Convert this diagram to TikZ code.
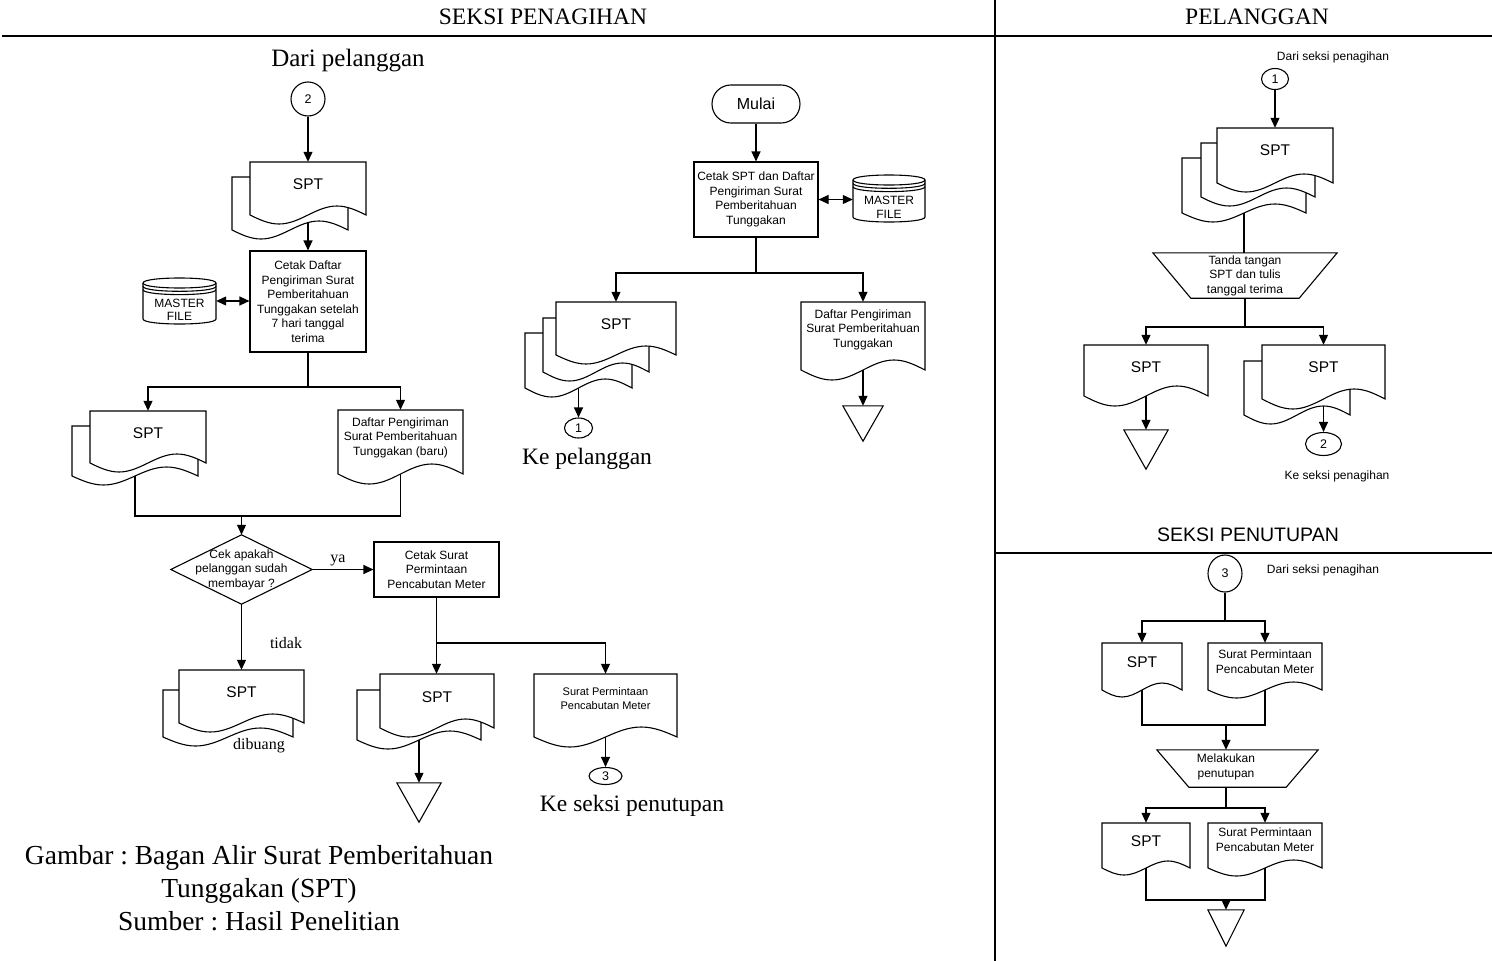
\documentclass[tikz,border=0pt]{standalone}
\usepackage{fontspec}
\setmainfont{Liberation Serif}
\setsansfont{Liberation Sans}
\usetikzlibrary{arrows.meta,shapes.geometric}
\pgfdeclarelayer{conns}
\pgfsetlayers{conns,main}
\frenchspacing

\tikzset{
  outline/.style={draw=black, line width=1.1pt},
  shapeline/.style={draw=black, line width=1.1pt, fill=white},
  conn/.style={draw=black, line width=1.1pt},
  arr/.style={conn, -{Triangle[length=10pt,width=9pt]}},
  darr/.style={conn, {Triangle[length=10pt,width=9pt]}-{Triangle[length=10pt,width=9pt]}},
  lbl/.style={font=\sffamily\fontsize{12}{14.5}\selectfont, align=center, inner sep=0pt},
  docnode/.style={lbl, text depth=8.5pt},
  procbox/.style={draw=black, line width=1.1pt, fill=white, lbl},
  conncirc/.style={ellipse, draw=black, line width=1.1pt, fill=white, inner sep=0pt,
    font=\sffamily\fontsize{12.5}{14}\selectfont},
  serif/.style={font=\fontsize{16}{19}\selectfont, inner sep=0pt},
  bigserif/.style={font=\fontsize{23.5}{28}\selectfont, inner sep=0pt},
  hdr/.style={font=\fontsize{23.5}{28}\selectfont, inner sep=0pt},
  boxnode/.style={inner sep=0pt},
  disklbl/.style={font=\sffamily\fontsize{12}{13.5}\selectfont, align=center, inner sep=0pt},
}

% paper document with a wavy lower edge: x0, y0, width, height to the wave midline, wave amplitude
\newcommand{\docpath}[5]{%
  \pgfmathsetmacro\dpR{#1+#3}%
  \pgfmathsetmacro\dpB{#2+#4}%
  \pgfmathsetmacro\dpQa{#1+0.75*#3}%
  \pgfmathsetmacro\dpQb{#1+0.5*#3}%
  \pgfmathsetmacro\dpQc{#1+0.25*#3}%
  \pgfmathsetmacro\dpU{#2+#4-#5}%
  \pgfmathsetmacro\dpD{#2+#4+#5}%
  \filldraw[shapeline] (#1,#2) -- (\dpR,#2) -- (\dpR,\dpB) sin (\dpQa,\dpU) cos (\dpQb,\dpB)
    sin (\dpQc,\dpD) cos (#1,\dpB) -- cycle;%
}
% front document with its named node
\newcommand{\docshape}[8][]{%
  \docpath{#3}{#4}{#5}{#6}{#7}%
  \pgfmathsetmacro\dcX{#3+0.5*#5}%
  \pgfmathsetmacro\dcY{#4+0.5*#6}%
  \node[docnode, minimum width=#5, minimum height=#6, #1] (#2) at (\dcX,\dcY) {#8};%
}
% a copy lying behind, with a named coordinate at its middle
\newcommand{\doccopy}[6]{%
  \docpath{#2}{#3}{#4}{#5}{#6}%
  \pgfmathsetmacro\dcX{#2+0.5*#4}%
  \pgfmathsetmacro\dcY{#3+0.5*#5}%
  \coordinate (#1) at (\dcX,\dcY);%
}
% disk storage: name, centre x, top ellipse y, bottom arc y, half width
\newcommand{\masterfile}[5]{%
  \pgfmathsetmacro\mfL{#2-#5}%
  \pgfmathsetmacro\mfR{#2+#5}%
  \pgfmathsetmacro\mfTd{#3+6.67}%
  \pgfmathsetmacro\mfTu{#3-6.67}%
  \pgfmathsetmacro\mfBd{#4+6.67}%
  \pgfmathsetmacro\mfA{#3+3.3}%
  \pgfmathsetmacro\mfAd{#3+9.97}%
  \pgfmathsetmacro\mfB{#3+6.6}%
  \pgfmathsetmacro\mfBdd{#3+13.27}%
  \filldraw[shapeline] (\mfL,#3) -- (\mfL,#4) .. controls (\mfL,\mfBd) and (\mfR,\mfBd) .. (\mfR,#4)
    -- (\mfR,#3) .. controls (\mfR,\mfTu) and (\mfL,\mfTu) .. (\mfL,#3) -- cycle;
  \draw[outline] (\mfL,#3) .. controls (\mfL,\mfTd) and (\mfR,\mfTd) .. (\mfR,#3);
  \draw[outline] (\mfL,\mfA) .. controls (\mfL,\mfAd) and (\mfR,\mfAd) .. (\mfR,\mfA);
  \draw[outline] (\mfL,\mfB) .. controls (\mfL,\mfBdd) and (\mfR,\mfBdd) .. (\mfR,\mfB);
  \pgfmathsetmacro\mfC{(#3+#4)/2}%
  \pgfmathsetmacro\mfH{#4-#3+10}%
  \pgfmathsetmacro\mfW{2*#5}%
  \node[boxnode, minimum width=\mfW, minimum height=\mfH] (#1) at (#2,\mfC) {};%
}
\newcommand{\spt}{{\fontsize{15.5}{18}\selectfont SPT}}

\begin{document}
\begin{tikzpicture}[x=1pt,y=-1pt]
\useasboundingbox (0,0) rectangle (1492,961);

% ---------- lanes ----------
\draw[conn] (2,36) -- (1492,36);
\draw[conn] (995,0) -- (995,961);
\draw[conn] (995,553) -- (1492,553);
\node[hdr] (hpen) at (543,17) {SEKSI PENAGIHAN};
\node[hdr] (hpel) at (1257,17) {PELANGGAN};
\node[font=\sffamily\fontsize{19.5}{22}\selectfont, inner sep=0pt] (hput) at (1248,535) {SEKSI PENUTUPAN};

% ---------- Seksi penagihan: returned SPT ----------
\node[bigserif, font=\fontsize{25}{30}\selectfont] (dpl) at (348,61) {Dari pelanggan};
\node[conncirc, minimum width=34, minimum height=34] (c2in) at (308,99) {2};
\doccopy{spt1-1}{232}{177}{116}{53}{9}
\docshape[text depth=9pt]{spt1}{250}{162}{116}{53}{9}{\spt}
\node[procbox, minimum width=116, minimum height=101] (p1) at (308,301.5)
  {Cetak Daftar\\Pengiriman Surat\\Pemberitahuan\\Tunggakan setelah\\7 hari tanggal\\terima};
\masterfile{mf1}{179.5}{283}{319}{36.5}
\node[disklbl] (mf1t) at (179.5,310) {MASTER\\FILE};
\coordinate (b1) at (308,387);
\doccopy{spt2-1}{72}{426}{126}{50}{9}
\docshape{spt2}{90}{411}{116}{52}{9}{\spt}
\docshape[text depth=11pt]{dft1}{338}{410}{125}{64}{10}{Daftar Pengiriman\\Surat Pemberitahuan\\Tunggakan (baru)}
\coordinate (m1) at (241.5,516);
\node[lbl, minimum width=141, minimum height=69] (d1) at (241.5,569.5)
  {Cek apakah\\pelanggan sudah\\membayar ?};
\draw[outline] (d1.north) -- (d1.east) -- (d1.south) -- (d1.west) -- cycle;
\node[procbox, minimum width=125, minimum height=55] (p2) at (436.5,569.5)
  {Cetak Surat\\Permintaan\\Pencabutan Meter};
\node[serif] (lya) at (338,560) {ya};
\node[serif] (ltd) at (286,643) {tidak};
\doccopy{spt3-1}{163}{690}{130}{47}{9}
\docshape[text depth=9pt]{spt3}{179}{670}{125}{53}{9}{\spt}
\node[serif] (ldb) at (259,746) {dibuang};
\coordinate (b2) at (436.5,643);
\doccopy{spt4-1}{357}{690}{124}{50}{9}
\docshape{spt4}{380}{674}{114}{54}{9}{\spt}
\docshape[text depth=14pt, font=\sffamily\fontsize{11}{14}\selectfont]{srt1}{534}{674}{143}{63}{10}
  {Surat Permintaan\\Pencabutan Meter}
\node[conncirc, minimum width=33, minimum height=17] (c3out) at (605.5,776) {3};
\node[bigserif] (lks) at (632,806) {Ke seksi penutupan};
\node[boxnode, minimum width=44, minimum height=39] (t1) at (419,802.5) {};
\draw[outline] (t1.north west) -- (t1.north east) -- (t1.south) -- cycle;
\node[font=\fontsize{27.5}{33}\selectfont, align=center, inner sep=0pt] (cap) at (259,888)
  {Gambar : Bagan Alir Surat Pemberitahuan\\Tunggakan (SPT)\\Sumber : Hasil Penelitian};

% ---------- Seksi penagihan: start ----------
\node[draw=black, line width=1.1pt, rounded corners=18.9pt, minimum width=88, minimum height=38,
  font=\sffamily\fontsize{16}{19}\selectfont, inner sep=0pt] (mulai) at (756,104) {Mulai};
\node[procbox, minimum width=124, minimum height=75] (p0) at (756,199.5)
  {Cetak SPT dan Daftar\\Pengiriman Surat\\Pemberitahuan\\Tunggakan};
\masterfile{mf2}{889}{180}{217}{36}
\node[disklbl] (mf2t) at (889,207.5) {MASTER\\FILE};
\coordinate (b3) at (756,273);
\doccopy{spt5-2}{525}{333}{107}{55}{9}
\doccopy{spt5-1}{543}{318}{106}{54}{9}
\docshape[text depth=9pt]{spt5}{556}{302}{120}{53}{9}{\spt}
\docshape[text depth=15pt]{dft2}{801}{302}{124}{68}{10}{Daftar Pengiriman\\Surat Pemberitahuan\\Tunggakan}
\node[conncirc, minimum width=28, minimum height=20] (c1out) at (578.5,428) {1};
\node[bigserif] (lkp) at (587,459) {Ke pelanggan};
\node[boxnode, minimum width=40, minimum height=35] (t2) at (863,423.5) {};
\draw[outline] (t2.north west) -- (t2.north east) -- (t2.south) -- cycle;

% ---------- Pelanggan ----------
\node[lbl] (ldsp1) at (1333,57) {Dari seksi penagihan};
\node[conncirc, minimum width=27, minimum height=21] (c1in) at (1275,79) {1};
\doccopy{spt6-2}{1182}{158}{124}{55}{9}
\doccopy{spt6-1}{1201}{143}{114}{54}{9}
\docshape[text depth=11pt]{spt6}{1217}{128}{116}{55}{9}{\spt}
\node[lbl, minimum width=184, minimum height=45] (tr1) at (1245,275.5)
  {Tanda tangan\\SPT dan tulis\\tanggal terima};
\draw[outline] (tr1.north west) -- (tr1.north east) -- ([xshift=-38pt]tr1.south east)
  -- ([xshift=38pt]tr1.south west) -- cycle;
\coordinate (b4) at (1245,327);
\docshape[text depth=7pt]{spt7}{1084}{345}{124}{51}{10}{\spt}
\doccopy{spt8-1}{1244}{361}{106}{54}{9}
\docshape[text depth=10pt]{spt8}{1262}{345}{123}{54}{10}{\spt}
\node[boxnode, minimum width=44, minimum height=39] (t3) at (1146,449.5) {};
\draw[outline] (t3.north west) -- (t3.north east) -- (t3.south) -- cycle;
\node[conncirc, minimum width=36, minimum height=23] (c2out) at (1323.5,444) {2};
\node[lbl] (lksp) at (1337,476) {Ke seksi penagihan};

% ---------- Seksi penutupan ----------
\node[conncirc, minimum width=34, minimum height=37] (c3in) at (1225,573.5) {3};
\node[lbl] (ldsp2) at (1323,570) {Dari seksi penagihan};
\coordinate (b5) at (1225,621);
\docshape[text depth=9pt]{spt9}{1102}{643}{80}{47}{7}{\spt}
\docshape[text depth=10pt]{srt2}{1208}{643}{114}{47}{8}{Surat Permintaan\\Pencabutan Meter}
\coordinate (m5) at (1226,725);
\node[boxnode, minimum width=161, minimum height=37] (tr2) at (1237.5,768.5) {};
\draw[outline] (tr2.north west) -- (tr2.north east) -- ([xshift=-32pt]tr2.south east)
  -- ([xshift=32pt]tr2.south west) -- cycle;
\node[lbl] (tr2t) at (1226,767) {Melakukan\\penutupan};
\coordinate (b6) at (1226,808);
\docshape[text depth=9pt]{spt10}{1102}{823}{88}{45}{7}{\spt}
\docshape[text depth=12pt]{srt3}{1208}{823}{114}{45}{8}{Surat Permintaan\\Pencabutan Meter}
\coordinate (m6) at (1226,900);
\node[boxnode, minimum width=36, minimum height=36] (t4) at (1226,928) {};
\draw[outline] (t4.north west) -- (t4.north east) -- (t4.south) -- cycle;

% ---------- connectors ----------
\begin{pgfonlayer}{conns}
  \draw[arr] (c2in) -- (spt1.north);
  \draw[arr] (spt1.center) -- (p1.north);
  \draw[darr] (mf1.east) -- (mf1.east -| p1.west);
  \draw[conn] (p1.south) -- (b1);
  \draw[arr] (b1) -| (spt2.north);
  \draw[arr] (b1) -| (dft1.north);
  \draw[conn] (spt2-1) |- (m1);
  \draw[conn] (dft1.center) |- (m1);
  \draw[arr] (m1) -- (d1.north);
  \draw[arr] (d1.east) -- (p2.west);
  \draw[arr] (d1.south) -- (spt3.north);
  \draw[arr] (p2.south) -- (p2.south |- spt4.north);
  \draw[arr] (b2) -| (srt1.north);
  \draw[arr] (spt4-1) -- (t1.north);
  \draw[arr] (srt1.center) -- (c3out.north);

  \draw[arr] (mulai) -- (p0.north);
  \draw[darr] (p0.east) -- (p0.east -| mf2.west);
  \draw[conn] (p0.south) -- (b3);
  \draw[arr] (b3) -| (spt5.north);
  \draw[arr] (b3) -| (dft2.north);
  \draw[arr] (spt5-2) -- (spt5-2 |- c1out.north);
  \draw[arr] (dft2.center) -- (t2.north);

  \draw[arr] (c1in) -- (spt6.north);
  \draw[conn] (spt6-2) -- (spt6-2 |- tr1.north);
  \draw[conn] (tr1.south) -- (b4);
  \draw[arr] (b4) -| (spt7.north);
  \draw[arr] (b4) -| (spt8.north);
  \draw[arr] (spt7.center) -- (t3.north);
  \draw[arr] (spt8.center) -- (c2out.north);

  \draw[conn] (c3in) -- (b5);
  \draw[arr] (b5) -| (spt9.north);
  \draw[arr] (b5) -| (srt2.north);
  \draw[conn] (spt9.center) |- (m5);
  \draw[conn] (srt2.center) |- (m5);
  \draw[arr] (m5) -- (m5 |- tr2.north);
  \draw[conn] (m5 |- tr2.south) -- (b6);
  \draw[arr] (b6) -| (spt10.north);
  \draw[arr] (b6) -| (srt3.north);
  \draw[conn] (spt10.center) |- (m6);
  \draw[conn] (srt3.center) |- (m6);
  \draw[arr] (m6) -- (t4.north);
\end{pgfonlayer}
\end{tikzpicture}
\end{document}
